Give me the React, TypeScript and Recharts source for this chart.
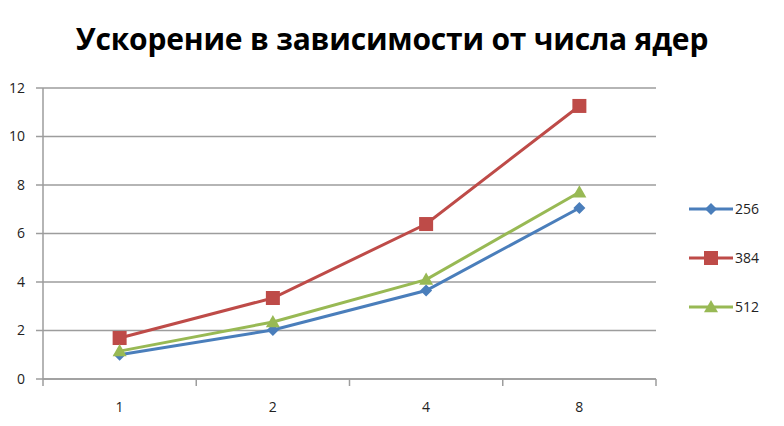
import React from 'react';
import {
  LineChart,
  Line,
  XAxis,
  YAxis,
  CartesianGrid,
} from 'recharts';

const cores = ['1', '2', '4', '8'];
const speedup256 = [1.0, 2.02, 3.65, 7.05];
const speedup384 = [1.69, 3.34, 6.39, 11.26];
const speedup512 = [1.15, 2.35, 4.1, 7.7];
const yTicks = [0, 2, 4, 6, 8, 10, 12];

const seriesInfo = [
  { key: 's256', name: '256', color: '#4A7EBB', shape: 'diamond' },
  { key: 's384', name: '384', color: '#BE4B48', shape: 'square' },
  { key: 's512', name: '512', color: '#98B954', shape: 'triangle' },
];

const data = cores.map((c, i) => ({
  idx: i,
  cores: c,
  s256: speedup256[i],
  s384: speedup384[i],
  s512: speedup512[i],
}));

// ticks at category centres get labels, half steps get the small tick marks
const xTicks = [-0.5, 0, 0.5, 1, 1.5, 2, 2.5, 3, 3.5];

const gridColor = '#9d9d9d';
const font = '"Open Sans", "Noto Sans", sans-serif';

function Marker({ cx, cy, shape, color }: any) {
  if (cx == null || cy == null) return null;
  if (shape === 'diamond') {
    const r = 6;
    return (
      <polygon
        points={`${cx},${cy - r} ${cx + r},${cy} ${cx},${cy + r} ${cx - r},${cy}`}
        fill={color}
      />
    );
  }
  if (shape === 'square') {
    const r = 7;
    return <rect x={cx - r} y={cy - r} width={r * 2} height={r * 2} fill={color} />;
  }
  const r = 7;
  return (
    <polygon
      points={`${cx},${cy - r} ${cx + r},${cy + r * 0.75} ${cx - r},${cy + r * 0.75}`}
      fill={color}
    />
  );
}

function XTick({ x, y, payload }: any) {
  const v = payload.value;
  if (Number.isInteger(v)) {
    return (
      <text
        x={x}
        y={y + 33}
        textAnchor="middle"
        fontSize={14}
        fontFamily={font}
        fill="#222"
      >
        {cores[v]}
      </text>
    );
  }
  return <line x1={x} x2={x} y1={y} y2={y + 7} stroke={gridColor} strokeWidth={1.5} />;
}

function LegendBox() {
  return (
    <div
      style={{
        position: 'absolute',
        left: 689,
        top: 199,
        display: 'flex',
        flexDirection: 'column',
        gap: 30,
      }}
    >
      {seriesInfo.map((s) => (
        <div key={s.key} style={{ display: 'flex', alignItems: 'center', height: 19 }}>
          <svg width={44} height={16}>
            <line x1={0} x2={44} y1={8} y2={8} stroke={s.color} strokeWidth={3} />
            <Marker cx={22} cy={8} shape={s.shape} color={s.color} />
          </svg>
          <span style={{ fontFamily: font, fontSize: 14, color: '#222', marginLeft: 2 }}>
            {s.name}
          </span>
        </div>
      ))}
    </div>
  );
}

export default function App() {
  return (
    <div
      style={{
        position: 'absolute',
        left: 0,
        top: 0,
        width: 784,
        height: 426,
        background: '#fff',
      }}
    >
      <div
        style={{
          position: 'absolute',
          top: 18,
          left: 0,
          width: 784,
          textAlign: 'center',
          fontFamily: font,
          fontWeight: 700,
          fontSize: 30,
          color: '#000',
          letterSpacing: -0.2,
        }}
      >
        Ускорение в зависимости от числа ядер
      </div>
      <LineChart
        width={784}
        height={426}
        data={data}
        margin={{ top: 88, right: 128, bottom: 0, left: 0 }}
      >
        <CartesianGrid vertical={false} stroke={gridColor} strokeWidth={1.5} />
        <XAxis
          dataKey="idx"
          type="number"
          domain={[-0.5, 3.5]}
          ticks={xTicks}
          interval={0}
          allowDataOverflow
          height={47}
          tickLine={false}
          tickSize={0}
          tickMargin={0}
          axisLine={{ stroke: gridColor, strokeWidth: 1.5 }}
          tick={<XTick />}
        />
        <YAxis
          domain={[0, 12]}
          ticks={yTicks}
          width={43}
          tickSize={7}
          tickMargin={11}
          axisLine={{ stroke: gridColor, strokeWidth: 1.5 }}
          tickLine={{ stroke: gridColor, strokeWidth: 1.5 }}
          tick={{ fontSize: 14, fontFamily: font, fill: '#222' }}
        />
        {seriesInfo.map((s) => (
          <Line
            key={s.key}
            dataKey={s.key}
            name={s.name}
            stroke={s.color}
            strokeWidth={3}
            isAnimationActive={false}
            dot={(p: any) => (
              <Marker key={`${s.key}-${p.index}`} cx={p.cx} cy={p.cy} shape={s.shape} color={s.color} />
            )}
            activeDot={false}
          />
        ))}
      </LineChart>
      <LegendBox />
    </div>
  );
}
